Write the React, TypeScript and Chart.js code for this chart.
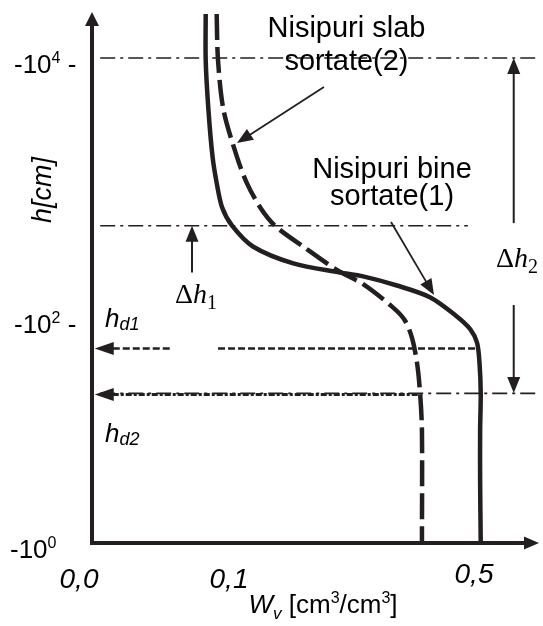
import React, { useEffect, useRef } from 'react';
import { Chart, LinearScale, registerables } from 'chart.js';

// ---------- data (W_v in cm3/cm3, L = log10|h| with h in cm) ----------
const solidW = [0.083, 0.083, 0.085, 0.088, 0.091, 0.095, 0.105, 0.139, 0.205, 0.281, 0.319, 0.374, 0.428, 0.470, 0.494, 0.505, 0.509, 0.511, 0.510, 0.510, 0.511];
const solidL = [4.34, 3.98, 3.60, 3.24, 3.04, 2.85, 2.71, 2.55, 2.42, 2.35, 2.32, 2.25, 2.16, 2.02, 1.90, 1.78, 1.60, 1.33, 1.00, 0.56, 0];
const dashedW = [0.091, 0.092, 0.096, 0.113, 0.129, 0.151, 0.175, 0.221, 0.276, 0.319, 0.368, 0.387, 0.399, 0.407, 0.412, 0.415, 0.415];
const dashedL = [4.34, 3.98, 3.60, 3.24, 3.04, 2.85, 2.71, 2.55, 2.37, 2.26, 2.08, 1.98, 1.82, 1.60, 1.33, 1.00, 0];

const yTickValues = [0, 2, 4];
const yTickExponents = ['0', '2', '4'];
const xTickValues = [0, 0.1, 0.5];
const xTickLabels = ['0,0', '0,1', '0,5'];

// dash-dot guide lines: level (L) and W extent
const guideLevels = [4, 2.71, 1.33];
const guideStartW = [0.006, 0.006, 0.006];
const guideEndW = [0.603, 0.49, 0.603];

// h_d entry lines
const hd1Level = 1.73;
const hd1Segments = [[0.002, 0.057], [0.092, 0.507]];
const hd2Level = 1.32;
const hd2Segments = [[0.002, 0.412]];

// delta-h arrows: [W, fromL, toL]
const deltaArrows = [[0.073, 2.35, 2.71], [0.565, 2.73, 4.0], [0.565, 2.10, 1.333]];
// pointer arrows: [fromW, fromL, toW, toL]
const pointerArrows = [[0.255, 3.777, 0.113, 3.346], [0.3645, 2.738, 0.4347, 2.177]];

// ---------- schematic piecewise-linear scale ----------
const BREAKS: Record<string, number[][]> = {
  x: [[0, 0], [0.1, 0.3058], [0.5, 0.8527], [0.608, 1]],
  y: [[0, 0], [2, 0.4253], [4, 0.9168], [4.34, 1]],
};

class PiecewiseScale extends LinearScale {
  static id = 'piecewise';
  static defaults = {};
  toDecimal(v: number) {
    const b = BREAKS[(this as any).axis];
    for (let i = 1; i < b.length; i++) {
      if (v <= b[i][0] || i === b.length - 1) {
        const [v0, d0] = b[i - 1];
        const [v1, d1] = b[i];
        return d0 + ((v - v0) / (v1 - v0)) * (d1 - d0);
      }
    }
    return 0;
  }
  fromDecimal(d: number) {
    const b = BREAKS[(this as any).axis];
    for (let i = 1; i < b.length; i++) {
      if (d <= b[i][1] || i === b.length - 1) {
        const [v0, d0] = b[i - 1];
        const [v1, d1] = b[i];
        return v0 + ((d - d0) / (d1 - d0)) * (v1 - v0);
      }
    }
    return 0;
  }
  getPixelForValue(value: number) {
    if (value === null || value === undefined) return NaN;
    return (this as any).getPixelForDecimal(this.toDecimal(value));
  }
  getValueForPixel(pixel: number) {
    return this.fromDecimal((this as any).getDecimalForPixel(pixel));
  }
}

Chart.register(...registerables, PiecewiseScale as any);

const INK = '#231f20';
const SANS = "'Liberation Sans', Arial, sans-serif";
const SERIF = "'Liberation Serif', 'Times New Roman', serif";

type Run = { t: string; f: string; dy?: number };
function drawRuns(ctx: CanvasRenderingContext2D, x: number, y: number, rs: Run[], align: 'left' | 'center') {
  let w = 0;
  for (const r of rs) { ctx.font = r.f; w += ctx.measureText(r.t).width; }
  let cx = align === 'center' ? x - w / 2 : x;
  ctx.textAlign = 'left';
  ctx.textBaseline = 'alphabetic';
  for (const r of rs) {
    ctx.font = r.f;
    ctx.fillText(r.t, cx, y + (r.dy || 0));
    cx += ctx.measureText(r.t).width;
  }
}

function arrow(ctx: CanvasRenderingContext2D, x1: number, y1: number, x2: number, y2: number, lw: number, hl: number, hw: number) {
  const a = Math.atan2(y2 - y1, x2 - x1);
  const bx = x2 - hl * Math.cos(a);
  const by = y2 - hl * Math.sin(a);
  ctx.setLineDash([]);
  ctx.lineWidth = lw;
  ctx.beginPath();
  ctx.moveTo(x1, y1);
  ctx.lineTo(bx + Math.cos(a), by + Math.sin(a));
  ctx.stroke();
  ctx.beginPath();
  ctx.moveTo(x2, y2);
  ctx.lineTo(bx + hw * Math.sin(a), by - hw * Math.cos(a));
  ctx.lineTo(bx - hw * Math.sin(a), by + hw * Math.cos(a));
  ctx.closePath();
  ctx.fill();
}

const schematicPlugin = {
  id: 'schematic',
  beforeDatasetsDraw(chart: any) {
    const ctx: CanvasRenderingContext2D = chart.ctx;
    const xs = chart.scales.x;
    const ys = chart.scales.y;
    const X = (v: number) => xs.getPixelForValue(v);
    const Y = (v: number) => ys.getPixelForValue(v);
    ctx.save();
    ctx.strokeStyle = INK;
    ctx.fillStyle = INK;
    // dash-dot guides
    ctx.lineWidth = 1.6;
    ctx.setLineDash([15, 5, 3, 5]);
    guideLevels.forEach((lv, i) => {
      ctx.beginPath();
      ctx.moveTo(X(guideStartW[i]), Y(lv));
      ctx.lineTo(X(guideEndW[i]), Y(lv));
      ctx.stroke();
    });
    // h_d1
    ctx.lineWidth = 2.5;
    ctx.setLineDash([7, 3]);
    hd1Segments.forEach(([a, b], i) => {
      const sx = i === 0 ? X(a) + 18 : X(a);
      ctx.beginPath();
      ctx.moveTo(sx, Y(hd1Level));
      ctx.lineTo(X(b), Y(hd1Level));
      ctx.stroke();
    });
    // h_d2
    ctx.lineWidth = 3;
    ctx.setLineDash([6, 2, 3, 2]);
    hd2Segments.forEach(([a, b]) => {
      ctx.beginPath();
      ctx.moveTo(X(a) + 18, Y(hd2Level));
      ctx.lineTo(X(b), Y(hd2Level));
      ctx.stroke();
    });
    ctx.setLineDash([]);
    // arrowheads of h_d lines
    [[hd1Level, hd1Segments[0][0]], [hd2Level, hd2Segments[0][0]]].forEach(([lv, w]) => {
      const tx = X(w), ty = Y(lv);
      ctx.beginPath();
      ctx.moveTo(tx, ty);
      ctx.lineTo(tx + 19, ty - 6.5);
      ctx.lineTo(tx + 19, ty + 6.5);
      ctx.closePath();
      ctx.fill();
    });
    ctx.restore();
  },
  afterDatasetsDraw(chart: any) {
    const ctx: CanvasRenderingContext2D = chart.ctx;
    const { left, right, top, bottom } = chart.chartArea;
    const xs = chart.scales.x;
    const ys = chart.scales.y;
    const X = (v: number) => xs.getPixelForValue(v);
    const Y = (v: number) => ys.getPixelForValue(v);
    ctx.save();
    ctx.strokeStyle = INK;
    ctx.fillStyle = INK;

    // axes with arrows
    ctx.setLineDash([]);
    ctx.lineWidth = 4;
    ctx.lineJoin = 'miter';
    ctx.beginPath();
    ctx.moveTo(left, top + 12);
    ctx.lineTo(left, bottom);
    ctx.lineTo(right - 14, bottom);
    ctx.stroke();
    ctx.beginPath();
    ctx.moveTo(left, top - 2);
    ctx.lineTo(left - 7, top + 12);
    ctx.lineTo(left + 7, top + 12);
    ctx.closePath();
    ctx.fill();
    ctx.beginPath();
    ctx.moveTo(right - 1, bottom);
    ctx.lineTo(right - 16, bottom - 6.5);
    ctx.lineTo(right - 16, bottom + 6.5);
    ctx.closePath();
    ctx.fill();

    // delta-h arrows
    deltaArrows.forEach(([w, a, b]) => arrow(ctx, X(w), Y(a), X(w), Y(b), 2, 16, 6.5));
    // pointer arrows
    pointerArrows.forEach(([w1, l1, w2, l2]) => arrow(ctx, X(w1), Y(l1), X(w2), Y(l2), 1.8, 16, 6.5));

    // texts
    ctx.fillStyle = '#000';
    // y ticks
    yTickValues.forEach((v, i) => {
      const rs: Run[] = [
        { t: '-10', f: `26px ${SANS}` },
        { t: yTickExponents[i], f: `16px ${SANS}`, dy: -10 },
      ];
      if (v !== 0) rs.push({ t: ' -', f: `26px ${SANS}` });
      drawRuns(ctx, v === 0 ? 10 : 14, Y(v) + 15, rs, 'left');
    });
    // x ticks
    xTickValues.forEach((v, i) => {
      const dx = v === 0 ? -13 : 0;
      const dy = v === 0.5 ? -5 : 0;
      drawRuns(ctx, X(v) + dx, bottom + 45 + dy, [{ t: xTickLabels[i], f: `italic 28px ${SANS}` }], 'center');
    });
    // x title
    drawRuns(ctx, X(0.2535), bottom + 70, [
      { t: 'W', f: `italic 26px ${SANS}` },
      { t: 'v', f: `italic 17px ${SANS}`, dy: 6 },
      { t: ' [cm', f: `26px ${SANS}` },
      { t: '3', f: `16px ${SANS}`, dy: -10 },
      { t: '/cm', f: `26px ${SANS}` },
      { t: '3', f: `16px ${SANS}`, dy: -10 },
      { t: ']', f: `26px ${SANS}` },
    ], 'center');
    // y title
    ctx.save();
    ctx.translate(left - 49, Y(2.985));
    ctx.rotate(-Math.PI / 2);
    ctx.font = `italic 27px ${SANS}`;
    ctx.textAlign = 'center';
    ctx.textBaseline = 'middle';
    ctx.fillText('h[cm]', 0, 0);
    ctx.restore();

    // series labels
    const big = `29px ${SANS}`;
    drawRuns(ctx, X(0.2918), Y(4.1615), [{ t: 'Nisipuri slab', f: big }], 'center');
    drawRuns(ctx, X(0.2918), Y(3.9077), [{ t: 'sortate(2)', f: big }], 'center');
    drawRuns(ctx, X(0.3661), Y(3.0769), [{ t: 'Nisipuri bine', f: big }], 'center');
    drawRuns(ctx, X(0.3661), Y(2.8692), [{ t: 'sortate(1)', f: big }], 'center');

    // h_d labels
    drawRuns(ctx, X(0.0095), Y(1.92), [
      { t: 'h', f: `italic 26px ${SANS}` },
      { t: 'd1', f: `italic 18px ${SANS}`, dy: 3 },
    ], 'left');
    drawRuns(ctx, X(0.0095), Y(0.898), [
      { t: 'h', f: `italic 26px ${SANS}` },
      { t: 'd2', f: `italic 18px ${SANS}`, dy: 3 },
    ], 'left');

    // delta labels
    drawRuns(ctx, X(0.0606), Y(2.1156), [
      { t: 'Δ', f: `28px ${SERIF}` },
      { t: 'h', f: `italic 28px ${SERIF}` },
      { t: '1', f: `20px ${SERIF}`, dy: 6 },
    ], 'left');
    drawRuns(ctx, X(0.5359), Y(2.392), [
      { t: 'Δ', f: `28px ${SERIF}` },
      { t: 'h', f: `italic 28px ${SERIF}` },
      { t: '2', f: `20px ${SERIF}`, dy: 6 },
    ], 'left');

    ctx.restore();
  },
};

export default function App() {
  const ref = useRef<HTMLCanvasElement>(null);
  useEffect(() => {
    const canvas = ref.current;
    if (!canvas) return;
    const chart = new Chart(canvas, {
      type: 'line',
      data: {
        datasets: [
          {
            label: 'Nisipuri bine sortate(1)',
            data: solidW.map((w, i) => ({ x: w, y: solidL[i] })),
            borderColor: INK,
            borderWidth: 4.5,
            pointRadius: 0,
            tension: 0.3,
            fill: false,
          },
          {
            label: 'Nisipuri slab sortate(2)',
            data: dashedW.map((w, i) => ({ x: w, y: dashedL[i] })),
            borderColor: INK,
            borderWidth: 4.5,
            borderDash: [26, 7],
            pointRadius: 0,
            tension: 0.3,
            fill: false,
          },
        ],
      },
      options: {
        animation: false,
        responsive: false,
        events: [],
        layout: { padding: { left: 92, right: 3, top: 14, bottom: 83 } },
        scales: {
          x: { type: 'piecewise' as any, min: 0, max: 0.608, display: false },
          y: { type: 'piecewise' as any, min: 0, max: 4.34, display: false },
        },
        plugins: { legend: { display: false }, tooltip: { enabled: false } },
      },
      plugins: [schematicPlugin],
    } as any);
    return () => chart.destroy();
  }, []);
  return (
    <canvas
      ref={ref}
      width={543}
      height={626}
      style={{ position: 'fixed', left: 0, top: 0, width: 543, height: 626, background: '#fff' }}
    />
  );
}
